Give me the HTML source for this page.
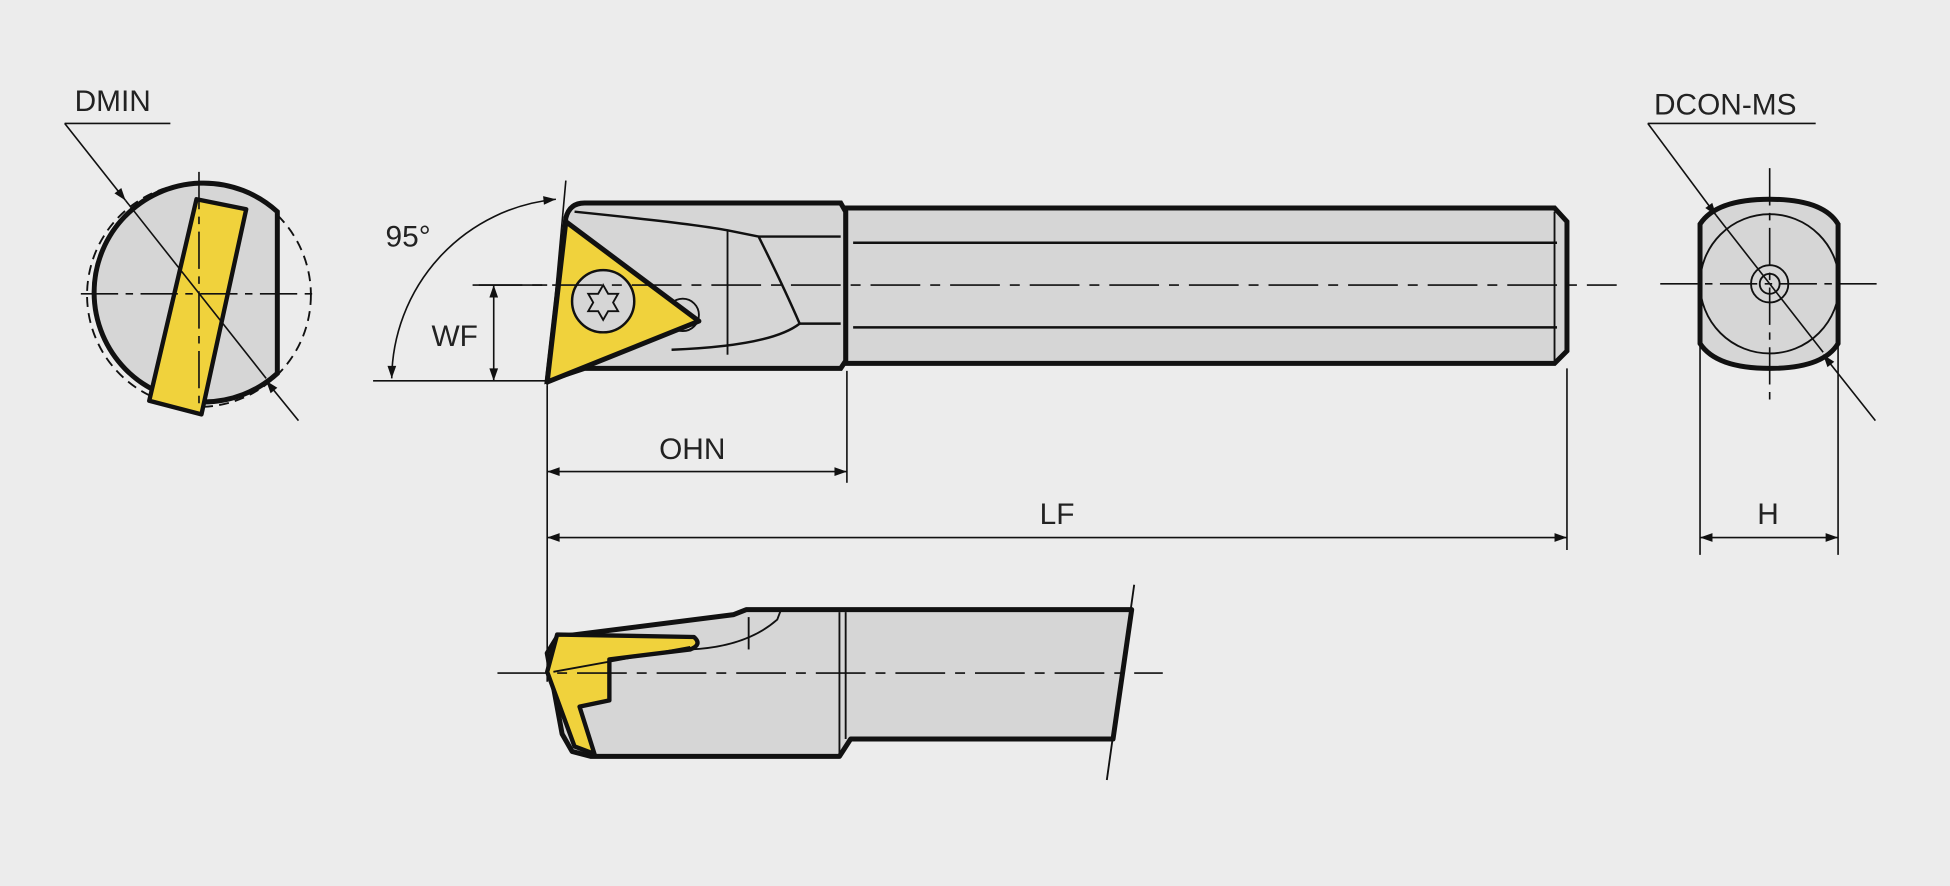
<!DOCTYPE html>
<html><head><meta charset="utf-8"><style>
html,body{margin:0;padding:0;background:#ececec;}
svg{display:block}
text{font-family:"Liberation Sans",sans-serif;font-size:24px;fill:#222}
</style></head><body>
<svg width="1950" height="886" viewBox="0 0 1568 712" xmlns="http://www.w3.org/2000/svg">
<defs>
<marker id="a" viewBox="0 0 10 10" refX="10" refY="5" markerWidth="14" markerHeight="10" markerUnits="userSpaceOnUse" orient="auto-start-reverse"><path d="M0,1.5 L10,5 L0,8.5 z" fill="#111"/></marker>
</defs>
<rect width="1568" height="712" fill="#ececec"/>
<g stroke="#111" fill="none">
<!-- top view shank -->
<path d="M680,167 L1250,167 L1260,178 L1260,282 L1250,292 L680,292 Z" fill="#d6d6d6" stroke-width="4"/>
<line x1="686" y1="195" x2="1252" y2="195" stroke-width="2"/>
<line x1="686" y1="263" x2="1252" y2="263" stroke-width="2"/>
<line x1="1250" y1="170" x2="1250" y2="290" stroke-width="1.5"/>
<!-- head -->
<path d="M455,175 Q458,163 470,163 L676,163 L680,170 L680,290 L676,296 L470,296 L440,306 Z" fill="#d6d6d6" stroke-width="4"/>
<path d="M462,170 Q560,180 585,185 L610,190 Q630,230 643,260 Q620,278 540,281" stroke-width="2"/>
<line x1="585" y1="185" x2="585" y2="285" stroke-width="1.5"/>
<path d="M610,190 L676,190 M643,260 L676,260" stroke-width="2"/>
<circle cx="549" cy="253" r="13" fill="#d6d6d6" stroke-width="1.5"/>
<!-- insert -->
<path d="M455,178 L562,258 L440,307 Z" fill="#f0d23c" stroke-width="4" stroke-linejoin="round"/>
<circle cx="485" cy="242" r="25" fill="#d6d6d6" stroke-width="2"/>
<path d="M485,229 L489,236 L497,236 L493,243 L497,250 L489,250 L485,257 L481,250 L473,250 L477,243 L473,236 L481,236 Z" stroke-width="1.5"/>
<!-- centerline -->
<line x1="380" y1="229" x2="1300" y2="229" stroke-width="1.3" stroke-dasharray="40,8,8,8"/>
<!-- WF -->
<line x1="385" y1="229" x2="440" y2="229" stroke-width="1.3"/>
<line x1="300" y1="306" x2="440" y2="306" stroke-width="1.3"/>
<line x1="397" y1="229" x2="397" y2="306" stroke-width="1.3" marker-start="url(#a)" marker-end="url(#a)"/>
<!-- 95 arc -->
<line x1="455" y1="145" x2="440" y2="310" stroke-width="1.3"/>
<path d="M447,160 A146,146 0 0 0 315,304" stroke-width="1.3" marker-start="url(#a)" marker-end="url(#a)"/>
<!-- ext lines -->
<line x1="440" y1="310" x2="440" y2="548" stroke-width="1.3"/>
<line x1="681" y1="298" x2="681" y2="388" stroke-width="1.3"/>
<line x1="1260" y1="296" x2="1260" y2="442" stroke-width="1.3"/>
<line x1="440" y1="379" x2="681" y2="379" stroke-width="1.3" marker-start="url(#a)" marker-end="url(#a)"/>
<line x1="440" y1="432" x2="1260" y2="432" stroke-width="1.3" marker-start="url(#a)" marker-end="url(#a)"/>
<!-- left end view -->
<circle cx="160" cy="237" r="90" stroke-width="1.5" stroke-dasharray="8,5"/>
<path d="M223,170 A88,88 0 1 0 223,300 Z" fill="#d6d6d6" stroke-width="4"/>
<path d="M223,172 L223,300" stroke-width="3"/>
<path d="M158,160 L198,168 L162,333 L120,322 Z" fill="#f0d23c" stroke-width="3.5" stroke-linejoin="round"/>
<line x1="65" y1="236" x2="255" y2="236" stroke-width="1.3" stroke-dasharray="30,6,6,6"/>
<line x1="160" y1="138" x2="160" y2="330" stroke-width="1.3" stroke-dasharray="30,6,6,6"/>
<line x1="52" y1="99" x2="137" y2="99" stroke-width="1.3"/>
<line x1="52" y1="99" x2="101" y2="161" stroke-width="1.3" marker-end="url(#a)"/>
<line x1="101" y1="161" x2="214" y2="304" stroke-width="1.3"/>
<line x1="240" y1="338" x2="214" y2="306" stroke-width="1.3" marker-end="url(#a)"/>
<!-- right end view -->
<path d="M1367,180 Q1380,160 1423,160 Q1466,160 1478,180 L1478,276 Q1466,296 1423,296 Q1380,296 1367,276 Z" fill="#d6d6d6" stroke-width="4"/>
<circle cx="1423" cy="228" r="56" stroke-width="1.5"/>
<circle cx="1423" cy="228" r="15" stroke-width="1.5"/>
<circle cx="1423" cy="228" r="8" stroke-width="1.5"/>
<line x1="1335" y1="228" x2="1515" y2="228" stroke-width="1.3" stroke-dasharray="30,6,6,6"/>
<line x1="1423" y1="135" x2="1423" y2="322" stroke-width="1.3" stroke-dasharray="30,6,6,6"/>
<line x1="1325" y1="99" x2="1460" y2="99" stroke-width="1.3"/>
<line x1="1325" y1="99" x2="1380" y2="173" stroke-width="1.3" marker-end="url(#a)"/>
<line x1="1380" y1="173" x2="1466" y2="283" stroke-width="1.3"/>
<line x1="1508" y1="338" x2="1466" y2="285" stroke-width="1.3" marker-end="url(#a)"/>
<line x1="1367" y1="272" x2="1367" y2="446" stroke-width="1.3"/>
<line x1="1478" y1="272" x2="1478" y2="446" stroke-width="1.3"/>
<line x1="1367" y1="432" x2="1478" y2="432" stroke-width="1.3" marker-start="url(#a)" marker-end="url(#a)"/>
<!-- lower view -->
<path d="M600,490 L910,490 L895,594 L684,594 L675,608 L475,608 L460,604 L452,590 L440,525 L448,512 L590,494 Z" fill="#d6d6d6" stroke-width="4" stroke-linejoin="round"/>
<path d="M448,510 L558,512 Q565,518 555,522 L490,530 L490,563 L466,568 L478,606 L462,600 L440,540 Z" fill="#f0d23c" stroke-width="3.5" stroke-linejoin="round"/>
<path d="M445,540 L555,520" stroke-width="1.5"/>
<path d="M555,522 Q600,520 625,498 L628,490" stroke-width="1.5"/>
<line x1="602" y1="496" x2="602" y2="522" stroke-width="1.5"/>
<line x1="675" y1="492" x2="675" y2="606" stroke-width="1.5"/>
<line x1="680" y1="492" x2="680" y2="594" stroke-width="1.5"/>
<line x1="400" y1="541" x2="935" y2="541" stroke-width="1.3" stroke-dasharray="40,8,8,8"/>
<line x1="912" y1="470" x2="890" y2="627" stroke-width="1.5"/>
</g>
<text x="60" y="89">DMIN</text>
<text x="310" y="198">95°</text>
<text x="347" y="278">WF</text>
<text x="530" y="369">OHN</text>
<text x="836" y="421">LF</text>
<text x="1330" y="92">DCON-MS</text>
<text x="1413" y="421">H</text>
</svg>
</body></html>
